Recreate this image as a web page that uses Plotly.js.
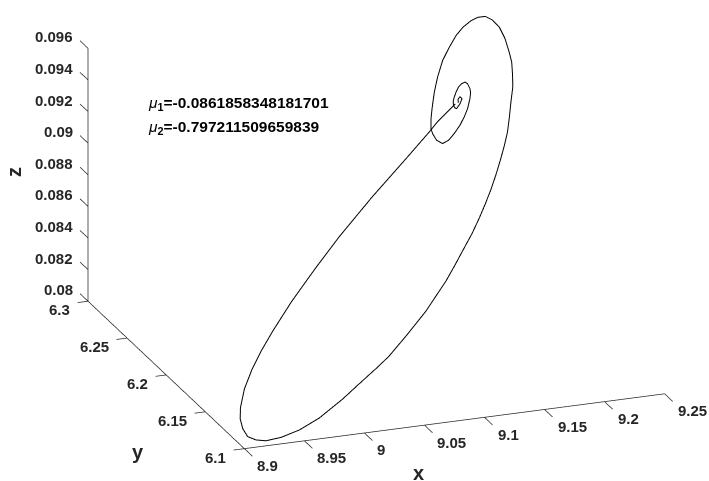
<!DOCTYPE html>
<html>
<head>
<meta charset="utf-8">
<script src="https://cdn.plot.ly/plotly-3.0.1.min.js"></script>
<style>html,body{margin:0;padding:0;background:#fff}</style>
</head>
<body>
<div id="graph" style="width:709px;height:481px"></div>
<script>
// trajectory
var xValues = [9.1790,9.1585,9.1488,9.1211,9.0815,9.0418,9.0120,8.9822,8.9572,8.9415,8.9285,8.9159,8.9069,8.9032,8.9023,8.9040,8.9099,8.9180,8.9315,8.9490,8.9693,8.9945,
  9.0075,9.0206,9.0337,9.0466,9.0686,9.0909,9.1038,9.1167,9.1295,9.1421,9.1533,9.1638,9.1729,9.1822,9.1914,9.2002,9.2072,9.2139,9.2201,9.2259,9.2321,9.2359,9.2388,9.2398,9.2405,9.2392,9.2356,9.2309,9.2243,9.2177,9.2088,9.2006,9.1914,9.1818,9.1725,9.1652,9.1582,9.1543,9.1512,9.1510,9.1523,9.1562,9.1623,9.1690,9.1764,9.1825,9.1878,9.1928,9.1952,9.1959,9.1954,9.1938,9.1904,9.1869,9.1833,9.1803,9.1781,9.1771,9.1775,9.1786,9.1830,9.1862,9.1851,9.1827,9.1819];
var yValues = [6.2587,6.2502,6.2455,6.2329,6.2150,6.1962,6.1812,6.1657,6.1516,6.1423,6.1338,6.1244,6.1156,6.1103,6.1056,6.1019,6.1003,6.1000,6.1015,6.1050,6.1107,6.1196,
  6.1246,6.1297,6.1347,6.1399,6.1502,6.1610,6.1681,6.1751,6.1829,6.1908,6.1977,6.2048,6.2113,6.2182,6.2256,6.2330,6.2392,6.2455,6.2526,6.2596,6.2667,6.2729,6.2784,6.2831,6.2897,6.2948,6.2984,6.3000,6.2995,6.2980,6.2948,6.2909,6.2854,6.2792,6.2714,6.2643,6.2565,6.2518,6.2471,6.2447,6.2416,6.2400,6.2416,6.2447,6.2487,6.2526,6.2565,6.2612,6.2640,6.2659,6.2682,6.2690,6.2682,6.2667,6.2643,6.2620,6.2600,6.2581,6.2568,6.2565,6.2588,6.2612,6.2621,6.2609,6.2593];
var zValues = [0.09164,0.09110,0.09079,0.08995,0.08878,0.08753,0.08651,0.08544,0.08446,0.08379,0.08318,0.08248,0.08180,0.08138,0.08098,0.08063,0.08044,0.08032,0.08033,0.08046,0.08075,0.08128,
  0.08160,0.08191,0.08222,0.08255,0.08323,0.08396,0.08445,0.08494,0.08549,0.08605,0.08655,0.08707,0.08755,0.08806,0.08861,0.08918,0.08965,0.09014,0.09070,0.09125,0.09181,0.09232,0.09277,0.09317,0.09374,0.09421,0.09455,0.09474,0.09477,0.09469,0.09451,0.09425,0.09386,0.09341,0.09281,0.09227,0.09165,0.09128,0.09090,0.09069,0.09041,0.09023,0.09031,0.09052,0.09079,0.09107,0.09136,0.09172,0.09194,0.09210,0.09231,0.09240,0.09236,0.09226,0.09209,0.09191,0.09176,0.09160,0.09149,0.09145,0.09161,0.09179,0.09188,0.09180,0.09166];

var xTicks = [8.9,8.95,9,9.05,9.1,9.15,9.2,9.25];
var yTicks = [6.1,6.15,6.2,6.25,6.3];
var zTicks = [0.08,0.082,0.084,0.086,0.088,0.09,0.092,0.094,0.096];

var mu1 = '-0.0861858348181701';
var mu2 = '-0.797211509659839';

var xMin = 8.9, xMax = 9.25;
var yMin = 6.1, yMax = 6.3;
var zMin = 0.08, zMax = 0.096;

// matlab style ticks: they run along another axis, plotly can't point them that way
// so the box and ticks are a trace of their own and the ranges leave room for them
var xTickLen = 0.0089;
var yTickLen = 0.0103;
// small pad, lines sitting right on the range limit get clipped in pieces
var xPad = 0.002;
var zPad = 0.0002;

var tickFont = {family: 'Liberation Sans', size: 15, color: '#262626', weight: 'bold'};
var titleFont = {family: 'Liberation Sans', size: 20, color: '#262626', weight: 'bold'};

var boxX = [], boxY = [], boxZ = [];
function addSegment(x0, y0, z0, x1, y1, z1) {
  boxX.push(x0, x1, null);
  boxY.push(y0, y1, null);
  boxZ.push(z0, z1, null);
}
addSegment(xMin, yMin, zMin, xMax, yMin, zMin);
addSegment(xMin, yMin, zMin, xMin, yMax, zMin);
addSegment(xMin, yMax, zMin, xMin, yMax, zMax);
xTicks.forEach(function (t) { addSegment(t, yMin, zMin, t, yMin - yTickLen, zMin); });
yTicks.forEach(function (t) { addSegment(xMin, t, zMin, xMin - xTickLen, t, zMin); });
zTicks.forEach(function (t) { addSegment(xMin, yMax, t, xMin, yMax + yTickLen, t); });

// tick labels go in as scene annotations so each sits at its own data position
function tickLabel(x, y, z, value, anchor, dx, dy) {
  return {
    x: x, y: y, z: z, text: String(value), showarrow: false,
    xanchor: anchor, yanchor: 'middle', xshift: dx, yshift: dy, font: tickFont
  };
}

var sceneLabels = [];
xTicks.forEach(function (t) { sceneLabels.push(tickLabel(t, yMin, zMin, t, 'left', 11, -17)); });
yTicks.forEach(function (t) { sceneLabels.push(tickLabel(xMin, t, zMin, t, 'right', -16, -8.5)); });
zTicks.forEach(function (t) { sceneLabels.push(tickLabel(xMin, yMax, t, t, 'right', -13, 11.5)); });

function muLabel(index, value, yPos) {
  return {
    xref: 'paper', yref: 'paper', x: 146 / 709, y: yPos,
    xanchor: 'left', yanchor: 'middle', showarrow: false, align: 'left',
    font: {family: 'Liberation Sans', size: 15.5, color: '#000', weight: 'bold'},
    text: '<span style="font-weight:normal"><i>\u03bc</i></span><sub>' + index + '</sub>=' + value
  };
}

function axisName(name, px, py, angle) {
  return {
    xref: 'paper', yref: 'paper', x: px / 709, y: 1 - py / 481,
    xanchor: 'center', yanchor: 'middle', showarrow: false,
    textangle: angle, font: titleFont, text: name
  };
}

var trace = {
  type: 'scatter3d',
  mode: 'lines',
  x: xValues,
  y: yValues,
  z: zValues,
  line: {color: '#000', width: 2},
  hoverinfo: 'skip'
};

var boxTrace = {
  type: 'scatter3d',
  mode: 'lines',
  x: boxX,
  y: boxY,
  z: boxZ,
  connectgaps: false,
  line: {color: '#262626', width: 1.5},
  hoverinfo: 'skip'
};

var layout = {
  width: 709,
  height: 481,
  margin: {l: 0, r: 0, t: 0, b: 0},
  paper_bgcolor: '#fff',
  showlegend: false,
  scene: {
    domain: {x: [0, 1], y: [0, 1]},
    aspectmode: 'manual',
    aspectratio: {x: 1.9224, y: 2.0563, z: 1.151},
    xaxis: {visible: false, range: [xMin - xTickLen, xMax + xPad]},
    yaxis: {visible: false, range: [yMin - yTickLen, yMax + yTickLen]},
    zaxis: {visible: false, range: [zMin - zPad, zMax + zPad]},
    camera: {
      projection: {type: 'orthographic'},
      up: {x: 0, y: 0, z: 1},
      center: {x: -0.0768, y: 0.0043, z: -0.0754},
      eye: {x: -1.0568, y: -2.6297, z: 0.9776}
    },
    annotations: sceneLabels
  },
  annotations: [
    muLabel(1, mu1, 1 - 103 / 481),
    muLabel(2, mu2, 1 - 127 / 481),
    axisName('x', 418, 473, 0),
    axisName('y', 138, 452, 0),
    axisName('z', 14, 172, -90)
  ]
};

Plotly.newPlot('graph', [trace, boxTrace], layout, {displayModeBar: false});
</script>
</body>
</html>
